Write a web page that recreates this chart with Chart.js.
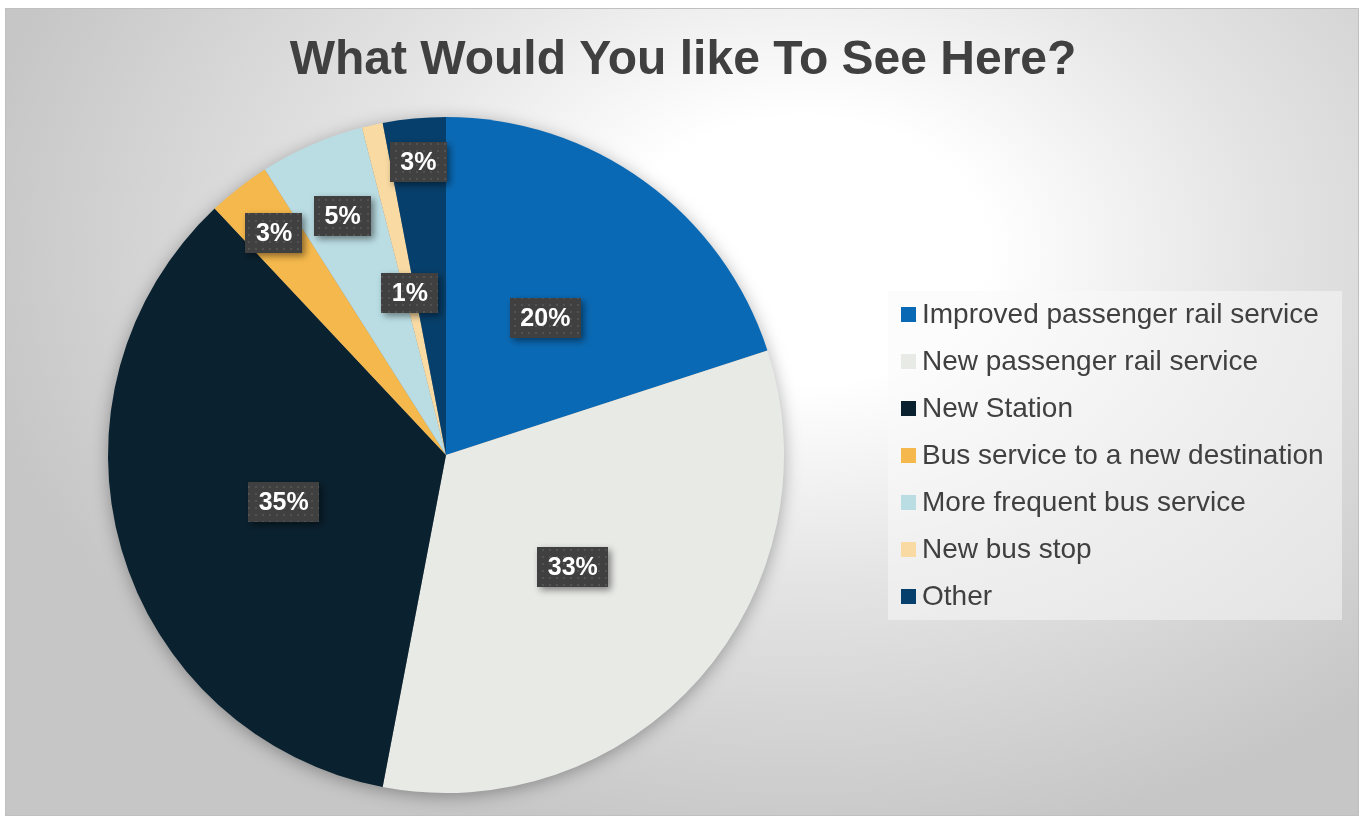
<!DOCTYPE html>
<html>
<head>
<meta charset="utf-8">
<script src="https://cdn.jsdelivr.net/npm/chart.js@4.4.1/dist/chart.umd.min.js"></script>
<style>
  html, body { margin: 0; padding: 0; background: #fff; }
  #wrap { position: relative; width: 1361px; height: 817px; }
  #panel {
    position: absolute; left: 5px; top: 8px; width: 1352px; height: 806px;
    border: 1px solid #c0c0c0;
    background: radial-gradient(ellipse 62% 75% at 59% 30%, #ffffff 0%, #ffffff 22%, #e4e4e4 55%, #c6c6c6 100%);
  }
  #chart { position: absolute; left: 0; top: 0; }
</style>
</head>
<body>
<div id="wrap">
  <div id="panel"></div>
  <canvas id="chart" width="1361" height="817"></canvas>
</div>
<script>
  var titleText = 'What Would You like To See Here?';
  var categories = [
    'Improved passenger rail service',
    'New passenger rail service',
    'New Station',
    'Bus service to a new destination',
    'More frequent bus service',
    'New bus stop',
    'Other'
  ];
  var shares = [20, 33, 35, 3, 5, 1, 3];

  var sliceColors = ['#0a69b4', '#e8eae6', '#0a212f', '#f5b84c', '#badde4', '#f8daa2', '#063f6b'];
  // how far out (fraction of radius) each percentage tag sits
  var tagRadius = [0.5, 0.5, 0.5, 0.83, 0.77, 0.49, 0.87];

  var FONT = "'Liberation Sans', Arial, Helvetica, sans-serif";

  function dotPattern(ctx) {
    var c = document.createElement('canvas');
    c.width = 7; c.height = 7;
    var g = c.getContext('2d');
    g.fillStyle = '#404040';
    g.fillRect(0, 0, 7, 7);
    g.fillStyle = '#525252';
    g.fillRect(3, 3, 2, 2);
    return ctx.createPattern(c, 'repeat');
  }

  /* ---------- shadow under the pie ---------- */
  var pieShadow = {
    id: 'pieShadow',
    beforeDatasetsDraw: function (chart) {
      var arc = chart.getDatasetMeta(0).data[0];
      if (!arc) return;
      var ctx = chart.ctx;
      ctx.save();
      ctx.shadowColor = 'rgba(0,0,0,0.35)';
      ctx.shadowBlur = 18;
      ctx.shadowOffsetY = 3;
      ctx.fillStyle = '#888';
      ctx.beginPath();
      ctx.arc(arc.x, arc.y, arc.outerRadius - 1, 0, Math.PI * 2);
      ctx.fill();
      ctx.restore();
    }
  };

  /* ---------- percentage tags ---------- */
  var tags = {
    id: 'tags',
    afterDatasetsDraw: function (chart) {
      var ctx = chart.ctx;
      var meta = chart.getDatasetMeta(0);
      var vals = chart.data.datasets[0].data;
      var total = vals.reduce(function (a, b) { return a + b; }, 0);
      var fill = dotPattern(ctx);
      ctx.save();
      ctx.font = 'bold 25px ' + FONT;
      ctx.textAlign = 'center';
      ctx.textBaseline = 'middle';
      meta.data.forEach(function (arc, i) {
        var mid = (arc.startAngle + arc.endAngle) / 2;
        var r = arc.outerRadius * tagRadius[i];
        var cx = arc.x + Math.cos(mid) * r;
        var cy = arc.y + Math.sin(mid) * r;
        var txt = Math.round(vals[i] / total * 100) + '%';
        var w = ctx.measureText(txt).width + 21;
        var h = 40;
        ctx.save();
        ctx.shadowColor = 'rgba(0,0,0,0.45)';
        ctx.shadowBlur = 7;
        ctx.shadowOffsetX = 3;
        ctx.shadowOffsetY = 3;
        ctx.fillStyle = fill;
        ctx.fillRect(Math.round(cx - w / 2), Math.round(cy - h / 2), Math.round(w), h);
        ctx.restore();
        ctx.fillStyle = '#ffffff';
        ctx.fillText(txt, cx, cy + 1);
      });
      ctx.restore();
    }
  };

  /* ---------- title and legend ---------- */
  var decor = {
    id: 'decor',
    afterDraw: function (chart) {
      var ctx = chart.ctx;
      var colors = chart.data.datasets[0].backgroundColor;
      ctx.save();
      ctx.fillStyle = '#404040';
      ctx.font = 'bold 48px ' + FONT;
      ctx.textAlign = 'center';
      ctx.textBaseline = 'alphabetic';
      ctx.fillText(titleText, 683, 74);

      ctx.fillStyle = 'rgba(250,250,250,0.5)';
      ctx.fillRect(888, 291, 454, 329);

      ctx.font = '28px ' + FONT;
      ctx.textAlign = 'left';
      ctx.textBaseline = 'middle';
      chart.data.labels.forEach(function (lbl, i) {
        var y = 314 + i * 47;
        ctx.fillStyle = colors[i];
        ctx.fillRect(901, y - 7, 15, 15);
        ctx.fillStyle = '#404040';
        ctx.fillText(lbl, 922, y + 1);
      });
      ctx.restore();
    }
  };

  new Chart(document.getElementById('chart'), {
    type: 'pie',
    data: {
      labels: categories,
      datasets: [{
        data: shares,
        backgroundColor: sliceColors,
        borderWidth: 0,
        hoverOffset: 0
      }]
    },
    options: {
      responsive: false,
      animation: false,
      events: [],
      layout: { padding: { left: 108, top: 117, right: 577, bottom: 24 } },
      plugins: {
        legend: { display: false },
        title: { display: false },
        tooltip: { enabled: false }
      }
    },
    plugins: [pieShadow, tags, decor]
  });
</script>
</body>
</html>
